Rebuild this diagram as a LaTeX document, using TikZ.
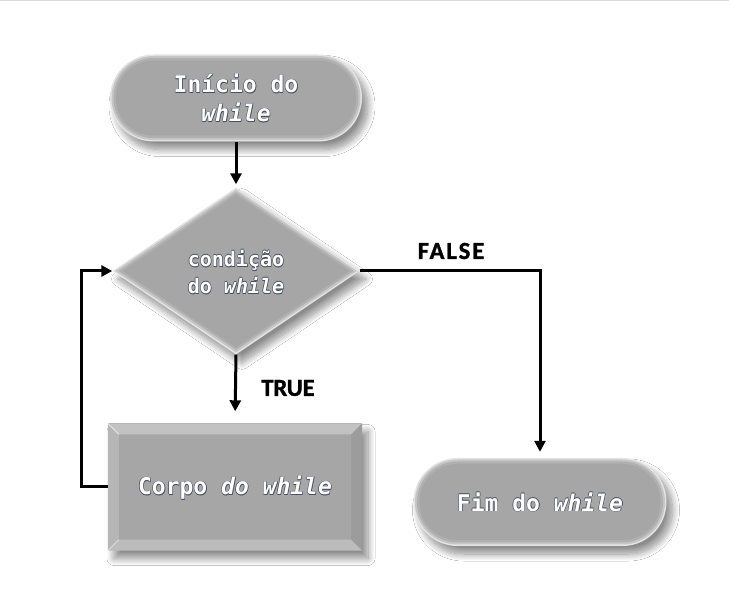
\documentclass[tikz,border=0pt]{standalone}
\usepackage{fontspec}
\newfontfamily\monofont{DejaVu Sans Mono}
\newfontfamily\labfont{Carlito}[FakeBold=1.3]
\usetikzlibrary{shapes.geometric,shapes.misc,arrows.meta,calc,shadows.blur}
\definecolor{boxgray}{HTML}{A6A6A6}
\definecolor{rim1}{HTML}{E4E4E4}
\definecolor{rim2}{HTML}{C6C6C6}
\definecolor{rim3}{HTML}{B0B0B0}
\definecolor{outl}{HTML}{4A5060}
\definecolor{bevtop}{HTML}{C2C2C2}
\definecolor{bevleft}{HTML}{B6B6B6}
\definecolor{bevbot}{HTML}{BCBCBC}
\definecolor{bevright}{HTML}{9C9C9C}
\tikzset{
  shad/.style={blur shadow={shadow xshift=6pt, shadow yshift=-8pt, shadow blur radius=7pt, shadow blur steps=14, shadow opacity=45}},
  term/.style={rounded rectangle, inner sep=0pt, minimum width=#1},
  dec/.style={diamond, inner sep=0pt, aspect=1.48},
  arr/.style={line width=3pt, -{Triangle[length=11pt,width=11pt]}},
  txt/.style={font=\monofont, align=center, inner sep=0pt},
  lab/.style={font=\labfont\bfseries\fontsize{24.5}{27}\selectfont, inner sep=0pt, text=black},
}
\newcommand\olab[3]{%
  \foreach \dx/\dy in {0.6/0,-0.6/0,0/0.6,0/-0.6,0.6/-0.6}{%
    \node[txt, text=outl, xshift=\dx pt, yshift=\dy pt, font=\monofont\bfseries#2] at #1 {#3};}
  \node[txt, text=white, font=\monofont\bfseries#2] at #1 {#3};}
\begin{document}
\begin{tikzpicture}[x=1pt,y=-1pt]
\useasboundingbox (0,0) rectangle (729,601);
\fill[white] (0,0) rectangle (729,601);
\draw[line width=1.5pt, black!15] (0,0.75) -- (729,0.75);

% start terminal
\node[term=252pt, minimum height=87pt, fill=rim1, shad] (start) at (236,98) {};
\node[term=249pt, minimum height=84pt, fill=rim2] (start2) at (236,98) {};
\node[term=245pt, minimum height=80pt, fill=rim3] (start3) at (236,98) {};
\node[term=240pt, minimum height=75pt, fill=boxgray] (start4) at (236,98) {};
\olab{(236,98)}{\fontsize{23}{29}\selectfont}{Início do\\\itshape while}

% end terminal
\node[term=253pt, minimum height=88pt, fill=rim1, shad] (fim) at (540,502) {};
\node[term=250pt, minimum height=85pt, fill=rim2] (fim2) at (540,502) {};
\node[term=246pt, minimum height=81pt, fill=rim3] (fim3) at (540,502) {};
\node[term=241pt, minimum height=76pt, fill=boxgray] (fim4) at (540,502) {};
\olab{(540,502)}{\fontsize{23}{29}\selectfont}{Fim do \itshape while}

% decision
\node[dec, minimum width=247pt, minimum height=167pt, fill=rim1, shad] (cond) at (236,271) {};
\node[dec, minimum width=242pt, minimum height=163pt, fill=rim2] (cond2) at (236,271) {};
\node[dec, minimum width=235pt, minimum height=158pt, fill=rim3] (cond3) at (236,271) {};
\node[dec, minimum width=227pt, minimum height=153pt, fill=boxgray] (cond4) at (236,271) {};
\olab{(236,272)}{\fontsize{20}{27}\selectfont}{condição\\do \itshape while}

% body rectangle
\node[rectangle, minimum width=254pt, minimum height=127pt, inner sep=0pt, fill=boxgray, shad] (corpo) at (235,487) {};
\fill[bevtop] (corpo.north west) -- (corpo.north east) -- ($(corpo.north east)+(-11,11)$) -- ($(corpo.north west)+(11,11)$) -- cycle;
\fill[bevleft] (corpo.north west) -- ($(corpo.north west)+(11,11)$) -- ($(corpo.south west)+(11,-11)$) -- (corpo.south west) -- cycle;
\fill[bevbot] (corpo.south west) -- ($(corpo.south west)+(11,-11)$) -- ($(corpo.south east)+(-11,-11)$) -- (corpo.south east) -- cycle;
\fill[bevright] (corpo.north east) -- ($(corpo.north east)+(-11,11)$) -- ($(corpo.south east)+(-11,-11)$) -- (corpo.south east) -- cycle;
\draw[white, line width=1pt, opacity=.7] (corpo.north west) -- ($(corpo.north west)+(11,11)$);
\draw[white, line width=1pt, opacity=.5] (corpo.south west) -- ($(corpo.south west)+(11,-11)$);
\olab{(235,488)}{\fontsize{23}{29}\selectfont}{Corpo \itshape do while}

% connectors
\draw[arr, shorten >=3pt] (start.south) -- (cond.north);
\draw[arr, shorten >=12pt] (cond.south) -- (corpo.north);
\draw[arr] (corpo.west) -- ++(-26,0) |- (cond.west);
\draw[arr, shorten >=6pt] (cond.east) -| (fim.north);

% labels
\node[lab] (truel) at (288,388) {TRUE};
\node[lab] (falsel) at (451,251) {\addfontfeature{LetterSpace=8}FALSE};
\end{tikzpicture}
\end{document}
